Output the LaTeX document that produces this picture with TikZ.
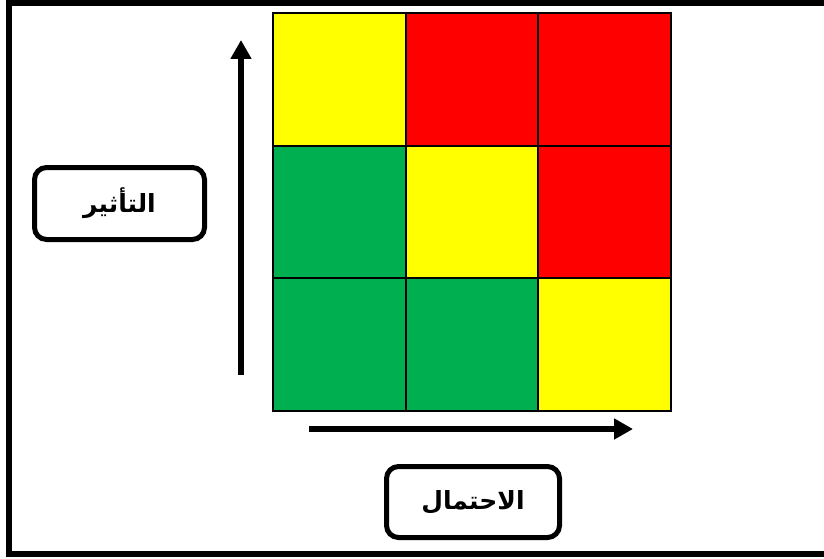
\documentclass[tikz,border=0pt]{standalone}
\usepackage{fontspec}
\usetikzlibrary{arrows.meta}
\TeXXeTstate=1
\newfontfamily\arabicfont[Script=Arabic]{DejaVu Sans}
\definecolor{riskgreen}{HTML}{00B050}
\definecolor{riskyellow}{HTML}{FFFF00}
\definecolor{riskred}{HTML}{FF0000}
\begin{document}
\begin{tikzpicture}[x=1pt,y=-1pt,
  cell/.style={draw=black, line width=2pt, minimum size=132.67pt, inner sep=0pt, outer sep=0pt},
  axislabel/.style={draw=black, line width=5pt, rounded corners=12pt, fill=white,
    minimum width=170pt, minimum height=72pt, font=\arabicfont\bfseries\fontsize{25}{30}\selectfont},
  axisarrow/.style={line width=6pt, -{Triangle[length=19pt,width=20pt]}}
]
\useasboundingbox (0,0) rectangle (824,559);
% outer frame
\draw[line width=6pt] (9,3) rectangle (834,554);

% 3x3 risk matrix
\node[cell, fill=riskyellow] (c11) at (339.33,79.33) {};
\node[cell, fill=riskred]    (c12) at (472,79.33) {};
\node[cell, fill=riskred]    (c13) at (604.67,79.33) {};
\node[cell, fill=riskgreen]  (c21) at (339.33,212) {};
\node[cell, fill=riskyellow] (c22) at (472,212) {};
\node[cell, fill=riskred]    (c23) at (604.67,212) {};
\node[cell, fill=riskgreen]  (c31) at (339.33,344.67) {};
\node[cell, fill=riskgreen]  (c32) at (472,344.67) {};
\node[cell, fill=riskyellow] (c33) at (604.67,344.67) {};

% axes
\coordinate (vstart) at (241,375);
\coordinate (vend) at (241,40);
\coordinate (hstart) at (309,429);
\coordinate (hend) at (633,429);
\draw[axisarrow] (vstart) -- (vend);
\draw[axisarrow] (hstart) -- (hend);

% axis labels
\node[axislabel] (impact) at (119.5,203.5) {\beginR التأثير\endR};
\node[axislabel, minimum width=173pt, minimum height=71pt] (likelihood) at (473,502) {\beginR الاحتمال\endR};
\end{tikzpicture}
\end{document}
